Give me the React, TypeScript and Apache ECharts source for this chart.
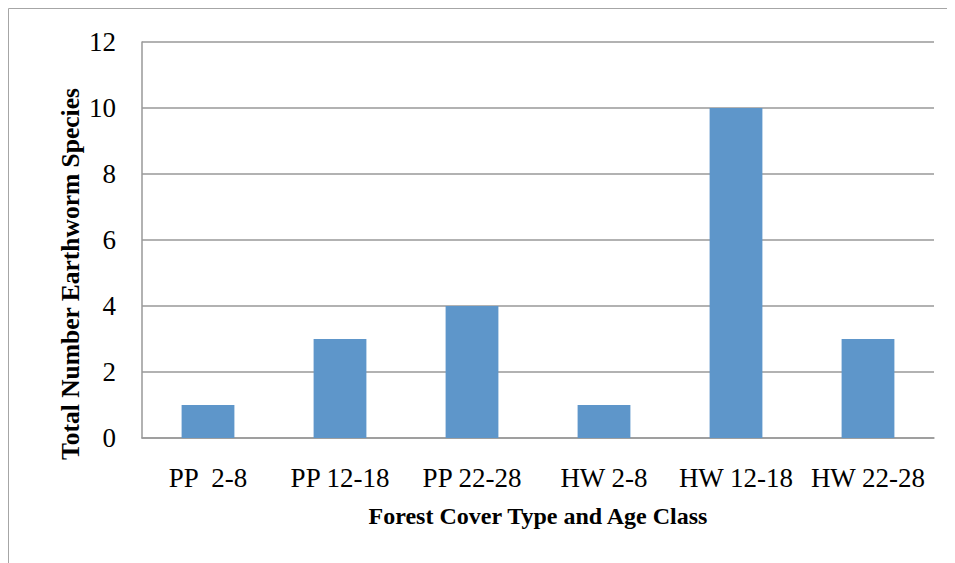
import React, { useEffect, useRef } from "react";
import * as echarts from "echarts";

const categories = ["PP  2-8", "PP 12-18", "PP 22-28", "HW 2-8", "HW 12-18", "HW 22-28"];
const speciesCounts = [1, 3, 4, 1, 10, 3];
const xAxisTitle = "Forest Cover Type and Age Class";
const yAxisTitle = "Total Number Earthworm Species";

const FONT = "'Liberation Serif', 'Times New Roman', serif";

export default function App() {
  const ref = useRef<HTMLDivElement>(null);
  useEffect(() => {
    if (!ref.current) return;
    const chart = echarts.init(ref.current, null, { renderer: "svg" });
    chart.setOption({
      animation: false,
      backgroundColor: "#ffffff",
      graphic: [
        {
          type: "rect",
          shape: { x: 0.5, y: 0.5, width: 2000, height: 2000 },
          style: { fill: "none", stroke: "#a6a6a6", lineWidth: 1 },
          silent: true,
        },
        {
          type: "text",
          x: 62,
          y: 266,
          rotation: Math.PI / 2,
          style: {
            text: yAxisTitle,
            fontFamily: FONT,
            fontWeight: "bold",
            fontSize: 25.5,
            fill: "#000",
            align: "center",
            verticalAlign: "middle",
          },
        },
      ],
      grid: { left: 134, right: 21, top: 34, bottom: 125 },
      xAxis: {
        type: "category",
        data: categories,
        name: xAxisTitle,
        nameLocation: "middle",
        nameGap: 66,
        nameTextStyle: { fontFamily: FONT, fontWeight: "bold", fontSize: 24, color: "#000" },
        axisLine: { show: true, lineStyle: { color: "#999999", width: 1.5 } },
        axisTick: { show: false },
        axisLabel: { fontFamily: FONT, fontSize: 27, color: "#000", margin: 26, interval: 0 },
      },
      yAxis: {
        type: "value",
        min: 0,
        max: 12,
        interval: 2,
        axisLine: { show: true, lineStyle: { color: "#999999", width: 1.5 } },
        axisTick: { show: false },
        splitLine: { show: true, lineStyle: { color: "#999999", width: 1.5 } },
        axisLabel: { fontFamily: FONT, fontSize: 27, color: "#000", margin: 26 },
      },
      series: [
        {
          type: "bar",
          data: speciesCounts,
          barWidth: "40%",
          itemStyle: { color: "#5e96ca" },
        },
      ],
    });
    return () => chart.dispose();
  }, []);
  return <div ref={ref} style={{ width: 947, height: 555 }} />;
}
